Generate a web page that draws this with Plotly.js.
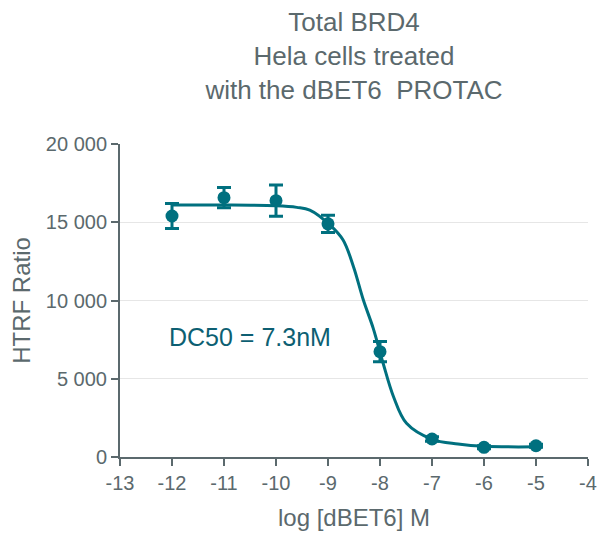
<!DOCTYPE html>
<html>
<head>
<meta charset="utf-8">
<script src="https://cdn.plot.ly/plotly-3.0.1.min.js"></script>
<style>html,body{margin:0;padding:0;background:#fff;}#chart{width:611px;height:534px;}</style>
</head>
<body>
<div id="chart"></div>
<script>
// measured points
const logDose = [-12, -11, -10, -9, -8, -7, -6, -5];
const htrfRatio = [15400, 16570, 16380, 14900, 6730, 1150, 620, 720];
const errorSD = [800, 650, 1000, 550, 650, 150, 100, 100];

// fitted curve
const curveX = [-12, -11, -10, -9.6, -9.35, -8.96, -8.71, -8.51, -8.32, -8.13, -7.94, -7.74, -7.49, -7.0, -6.5, -6, -5];
const curveY = [16100, 16100, 16050, 15950, 15780, 14820, 13870, 12160, 10030, 8220, 5990, 3850, 2150, 1130, 830, 680, 650];

const xTicks = [-13, -12, -11, -10, -9, -8, -7, -6, -5, -4];
const yTicks = [0, 5000, 10000, 15000, 20000];

const teal = '#00707f';
const grey = '#5b696d';

const traces = [
  {
    x: curveX, y: curveY, type: 'scatter', mode: 'lines',
    line: {color: teal, width: 3, shape: 'spline', smoothing: 1},
    hoverinfo: 'skip', showlegend: false
  },
  {
    x: logDose, y: htrfRatio, type: 'scatter', mode: 'markers',
    marker: {color: teal, size: 13},
    error_y: {type: 'data', array: errorSD, visible: true, color: teal, thickness: 3, width: 7},
    showlegend: false
  }
];

const layout = {
  width: 611, height: 534,
  margin: {l: 120, r: 23, t: 144, b: 77},
  paper_bgcolor: '#fff', plot_bgcolor: '#fff',
  separators: '. ',
  font: {family: 'Liberation Sans, Arial, sans-serif', color: grey},
  title: {
    text: 'Total BRD4<br>Hela cells treated<br>with the dBET6  PROTAC',
    font: {size: 26, color: grey},
    x: 0.5, xref: 'paper', xanchor: 'center',
    y: 0.942, yref: 'container', yanchor: 'top'
  },
  xaxis: {
    range: [-13, -4], tickvals: xTicks, ticktext: xTicks.map(String),
    showgrid: false, zeroline: false,
    showline: true, linecolor: grey, linewidth: 2,
    ticks: 'outside', ticklen: 7, tickwidth: 2, tickcolor: grey,
    tickfont: {size: 20, color: grey},
    title: {text: 'log [dBET6] M', font: {size: 24, color: grey}, standoff: 16}
  },
  yaxis: {
    range: [0, 20000], tickvals: yTicks, tickformat: ',d',
    showgrid: true, gridcolor: '#e6e6e6', gridwidth: 1, zeroline: false,
    showline: true, linecolor: grey, linewidth: 2,
    ticks: 'outside', ticklen: 7, tickwidth: 2, tickcolor: grey,
    tickfont: {size: 20, color: grey},
    title: {text: 'HTRF Ratio', font: {size: 24, color: grey}, standoff: 8}
  },
  annotations: [{
    x: -12.1, y: 7670, xref: 'x', yref: 'y', xanchor: 'left', yanchor: 'middle',
    text: 'DC50 = 7.3nM', showarrow: false,
    font: {size: 25, color: '#0d5f72'}
  }]
};

Plotly.newPlot('chart', traces, layout, {displayModeBar: false, staticPlot: true});
</script>
</body>
</html>
